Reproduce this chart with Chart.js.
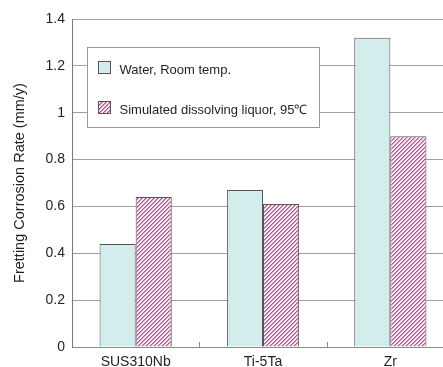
<!DOCTYPE html>
<html>
<head>
<meta charset="utf-8">
<script src="https://cdn.jsdelivr.net/npm/chart.js@4"></script>
<style>
html,body{margin:0;padding:0;background:#fff;overflow:hidden;}
#wrap{position:absolute;left:0;top:0;width:454px;height:367px;}
</style>
</head>
<body>
<div id="wrap"><canvas id="c"></canvas></div>
<script>
const categories = ['SUS310Nb', 'Ti-5Ta', 'Zr'];
const seriesNames = ['Water, Room temp.', 'Simulated dissolving liquor, 95\u2103'];
const waterValues = [0.44, 0.67, 1.32];
const liquorValues = [0.64, 0.61, 0.90];
const yTicks = [0, 0.2, 0.4, 0.6, 0.8, 1, 1.2, 1.4];
const yTitle = 'Fretting Corrosion Rate (mm/y)';

const FONT = "'Liberation Sans', Arial, sans-serif";
const waterFill = '#d3ecec';
const barBorder = '#555555';

function makeHatch() {
  const c = document.createElement('canvas');
  c.width = 4; c.height = 4;
  const g = c.getContext('2d');
  g.fillStyle = '#f8eaf2';
  g.fillRect(0, 0, 4, 4);
  for (let i = 0; i < 4; i++) {
    g.fillStyle = '#b0558a';
    g.fillRect(3 - i, i, 1, 1);
    g.fillStyle = '#d49ab9';
    g.fillRect((4 - i) % 4, i, 1, 1);
  }
  return g.createPattern(c, 'repeat');
}
const hatch = makeHatch();

const boxLegend = {
  id: 'boxLegend',
  afterDatasetsDraw(chart) {
    const ctx = chart.ctx, a = chart.chartArea;
    const x0 = a.left + 15.5, y0 = a.top + 28.5, w = 232, h = 80;
    ctx.save();
    ctx.fillStyle = '#ffffff';
    ctx.fillRect(x0, y0, w, h);
    ctx.strokeStyle = '#9a9a9a';
    ctx.lineWidth = 1;
    ctx.strokeRect(x0, y0, w, h);
    const boxes = [14, 54];
    const texts = [22.5, 63];
    chart.data.datasets.forEach((ds, i) => {
      const sy = y0 + boxes[i];
      ctx.fillStyle = ds.backgroundColor;
      ctx.fillRect(x0 + 11, sy, 12, 12);
      ctx.strokeStyle = barBorder;
      ctx.strokeRect(x0 + 11, sy, 12, 12);
      ctx.fillStyle = '#231f20';
      ctx.font = '13px ' + FONT;
      ctx.textBaseline = 'middle';
      ctx.textAlign = 'left';
      ctx.fillText(ds.label, x0 + 32, y0 + texts[i]);
    });
    ctx.restore();
  }
};

const catTicks = {
  id: 'catTicks',
  afterDraw(chart) {
    const xs = chart.scales.x, a = chart.chartArea, ctx = chart.ctx;
    ctx.save();
    ctx.strokeStyle = '#8a8a8a';
    ctx.lineWidth = 1;
    for (let i = 1; i < categories.length; i++) {
      const x = Math.round((xs.getPixelForValue(i - 1) + xs.getPixelForValue(i)) / 2) + 0.5;
      ctx.beginPath();
      ctx.moveTo(x, a.bottom - 5);
      ctx.lineTo(x, a.bottom);
      ctx.stroke();
    }
    ctx.restore();
  }
};

new Chart(document.getElementById('c'), {
  type: 'bar',
  data: {
    labels: categories,
    datasets: [
      { label: seriesNames[0], data: waterValues, backgroundColor: waterFill, borderColor: barBorder, borderWidth: 1 },
      { label: seriesNames[1], data: liquorValues, backgroundColor: hatch, borderColor: barBorder, borderWidth: 1 }
    ]
  },
  options: {
    responsive: true,
    maintainAspectRatio: false,
    animation: false,
    devicePixelRatio: 1,
    layout: { padding: { top: 19, right: 0, left: 0, bottom: 0 } },
    datasets: { bar: { categoryPercentage: 0.567, barPercentage: 1.0 } },
    plugins: { legend: { display: false }, tooltip: { enabled: false } },
    scales: {
      x: {
        grid: { display: false, drawTicks: false },
        border: { display: true, color: '#8a8a8a', width: 1 },
        ticks: { color: '#231f20', font: { family: FONT, size: 14 }, padding: 7 },
        afterFit(s) { s.height = 20; }
      },
      y: {
        min: 0, max: 1.4,
        afterBuildTicks(s) { s.ticks = yTicks.map(v => ({ value: v })); },
        grid: { color: '#a0a0a0', lineWidth: 1, drawTicks: false },
        border: { display: true, color: '#7a7a7a', width: 1 },
        ticks: {
          color: '#231f20', font: { family: FONT, size: 14 }, padding: 7,
          callback: v => String(Number(v.toFixed(1)))
        },
        title: { display: true, text: yTitle, color: '#231f20', font: { family: FONT, size: 14.5 }, padding: { top: 11, bottom: 0 } },
        afterFit(s) { s.width = 72; }
      }
    }
  },
  plugins: [boxLegend, catTicks]
});
</script>
</body>
</html>
